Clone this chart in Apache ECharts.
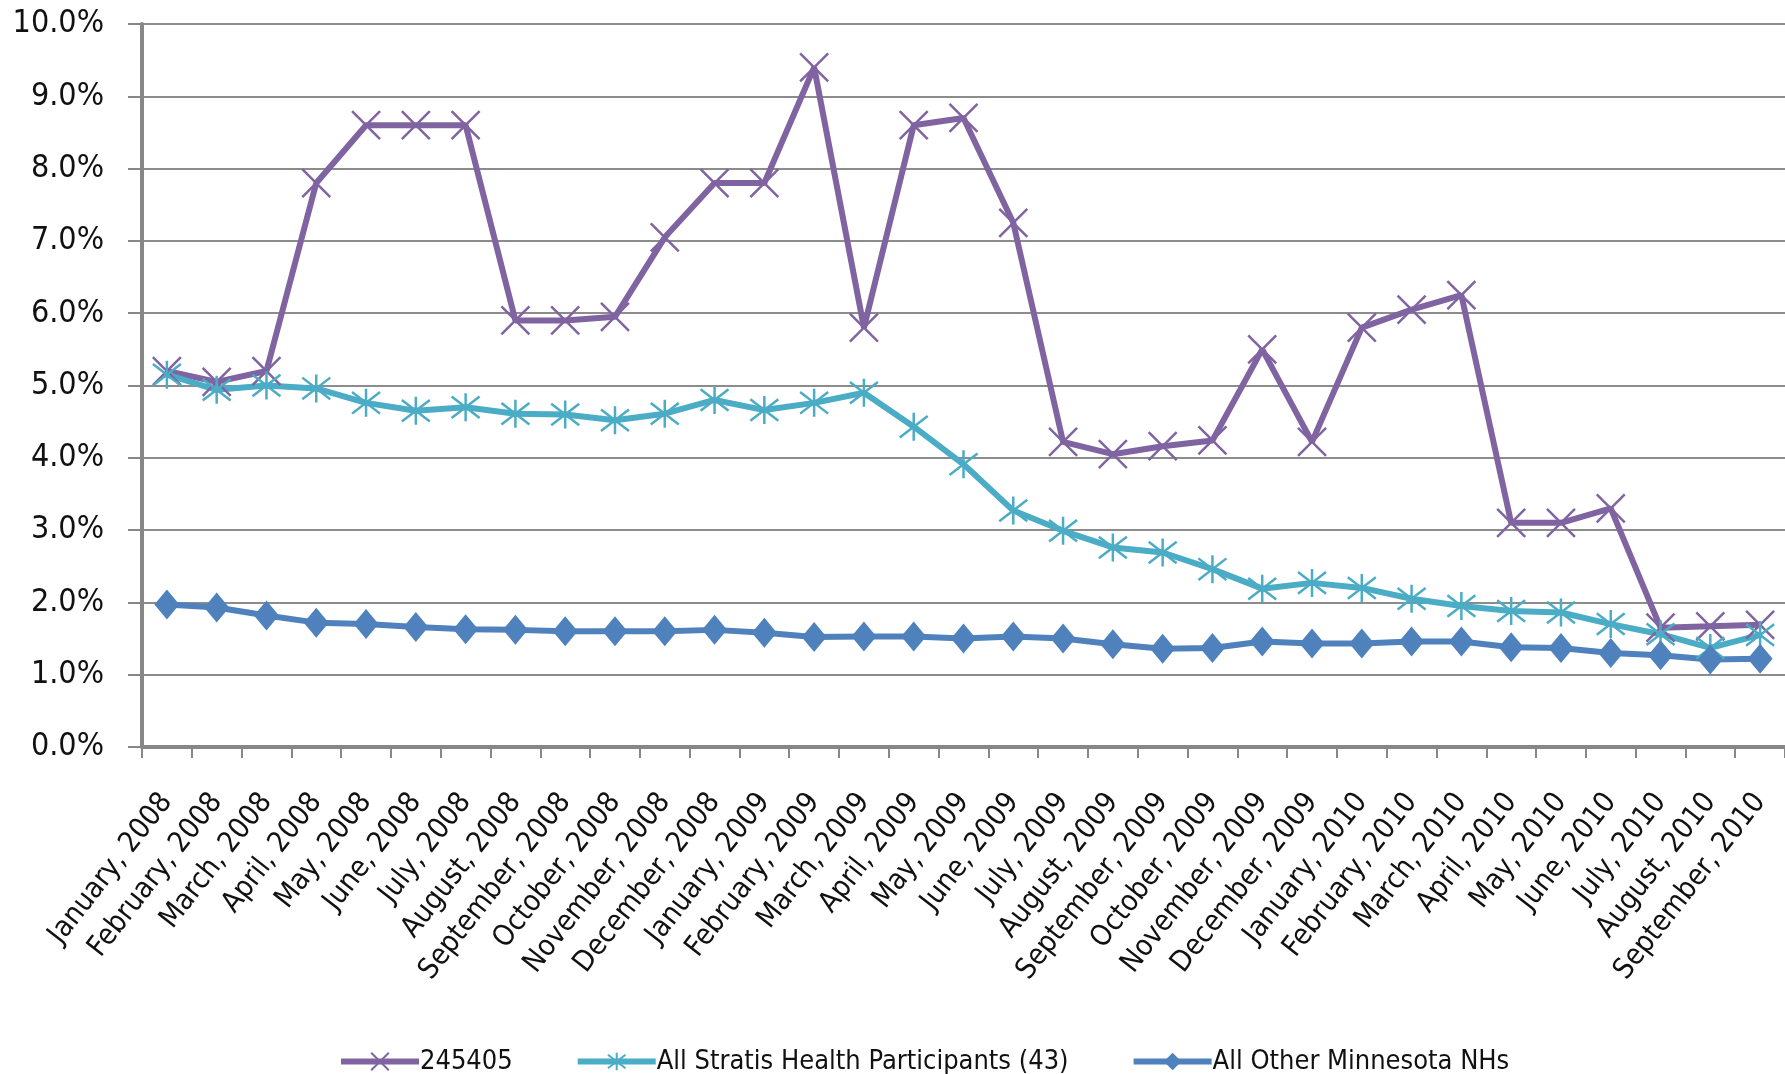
<!DOCTYPE html>
<html lang="en">
<head>
    <meta charset="UTF-8">
    <title>Rate by month</title>
    <script type="text/javascript" src="https://cdn.jsdelivr.net/npm/echarts@6/dist/echarts.min.js"></script>
    <style>
        html, body { margin: 0; padding: 0; background: #fff; }
    </style>
</head>
<body>
<div id="chart" style="width: 1785px;height:1074px;"></div>

<script type="text/javascript">
    // month labels, Jan 2008 .. Sep 2010
    var months = [
        'January, 2008', 'February, 2008', 'March, 2008', 'April, 2008', 'May, 2008', 'June, 2008',
        'July, 2008', 'August, 2008', 'September, 2008', 'October, 2008', 'November, 2008', 'December, 2008',
        'January, 2009', 'February, 2009', 'March, 2009', 'April, 2009', 'May, 2009', 'June, 2009',
        'July, 2009', 'August, 2009', 'September, 2009', 'October, 2009', 'November, 2009', 'December, 2009',
        'January, 2010', 'February, 2010', 'March, 2010', 'April, 2010', 'May, 2010', 'June, 2010',
        'July, 2010', 'August, 2010', 'September, 2010'
    ];

    // values in percent
    var facility = [5.2, 5.05, 5.2, 7.8, 8.6, 8.6, 8.6, 5.9, 5.9, 5.95, 7.05, 7.8,
        7.8, 9.4, 5.8, 8.6, 8.7, 7.25, 4.22, 4.05, 4.16, 4.24, 5.5, 4.22,
        5.8, 6.05, 6.25, 3.1, 3.1, 3.3, 1.65, 1.67, 1.69];
    var stratis = [5.15, 4.94, 5.0, 4.96, 4.76, 4.65, 4.7, 4.61, 4.6, 4.52, 4.61, 4.8,
        4.66, 4.76, 4.9, 4.43, 3.91, 3.27, 2.99, 2.76, 2.69, 2.46, 2.19, 2.27,
        2.2, 2.05, 1.95, 1.88, 1.86, 1.7, 1.56, 1.37, 1.55];
    var otherNH = [1.97, 1.93, 1.82, 1.72, 1.7, 1.66, 1.63, 1.62, 1.6, 1.6, 1.6, 1.62,
        1.58, 1.52, 1.53, 1.53, 1.5, 1.53, 1.5, 1.42, 1.36, 1.37, 1.46, 1.43,
        1.43, 1.46, 1.46, 1.38, 1.37, 1.3, 1.27, 1.21, 1.22];
    var yTicks = ['0.0%', '1.0%', '2.0%', '3.0%', '4.0%', '5.0%', '6.0%', '7.0%', '8.0%', '9.0%', '10.0%'];

    var font = '"DejaVu Sans Condensed", "Liberation Sans", sans-serif';
    var crossPath = 'path://M0,0L10,10M10,0L0,10';
    var starPath = 'path://M0,0L10,10M10,0L0,10M5,-1.5L5,11.5';

    var myChart = echarts.init(document.getElementById('chart'));

    myChart.setOption({
        animation: false,
        backgroundColor: '#fff',
        grid: {left: 142, right: 0, top: 24, bottom: 327, containLabel: false},
        legend: {
            left: 333,
            top: 1043,
            itemWidth: 78,
            itemHeight: 22,
            itemGap: 62,
            lineStyle: {width: 6},
            textStyle: {fontFamily: font, fontSize: 27, color: '#111', padding: [0, 0, 0, -4]},
            data: ['245405', 'All Stratis Health Participants (43)', 'All Other Minnesota NHs']
        },
        xAxis: {
            type: 'category',
            data: months,
            boundaryGap: true,
            axisLine: {lineStyle: {color: '#878787', width: 4}},
            axisTick: {show: true, length: 11, lineStyle: {color: '#878787', width: 2}},
            axisLabel: {
                interval: 0,
                rotate: 52,
                margin: 50,
                fontFamily: font,
                fontSize: 29,
                color: '#111'
            },
            splitLine: {show: false}
        },
        yAxis: {
            type: 'value',
            min: 0,
            max: 10,
            interval: 1,
            axisLine: {show: true, lineStyle: {color: '#878787', width: 4}},
            axisTick: {show: true, length: 14, lineStyle: {color: '#878787', width: 2}},
            axisLabel: {
                margin: 38,
                fontFamily: font,
                fontSize: 32,
                color: '#111',
                formatter: function (v) { return yTicks[Math.round(v)]; }
            },
            splitLine: {lineStyle: {color: '#8c8c8c', width: 2}}
        },
        series: [
            {
                name: '245405',
                type: 'line',
                data: facility,
                symbol: crossPath,
                symbolSize: 28,
                lineStyle: {color: '#8064A2', width: 6},
                itemStyle: {color: 'rgba(0,0,0,0)', borderColor: '#8064A2', borderWidth: 2.5}
            },
            {
                name: 'All Stratis Health Participants (43)',
                type: 'line',
                data: stratis,
                symbol: starPath,
                symbolSize: 28,
                lineStyle: {color: '#4BACC6', width: 6},
                itemStyle: {color: 'rgba(0,0,0,0)', borderColor: '#4BACC6', borderWidth: 2.5}
            },
            {
                name: 'All Other Minnesota NHs',
                type: 'line',
                data: otherNH,
                symbol: 'diamond',
                symbolSize: [25, 30],
                lineStyle: {color: '#4F81BD', width: 6},
                itemStyle: {color: '#4F81BD'}
            }
        ]
    });
</script>
</body>
</html>
